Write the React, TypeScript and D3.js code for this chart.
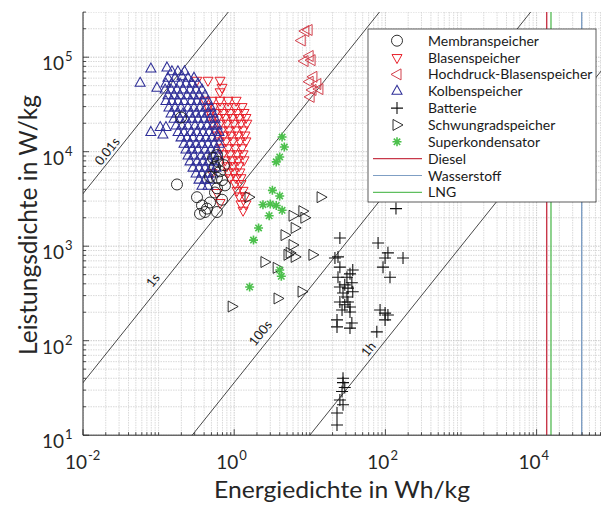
import React from 'react'
import * as d3 from 'd3'

// Ragone-Diagramm: Energiedichte (Wh/kg) vs. Leistungsdichte (W/kg)

const WIDTH = 601
const HEIGHT = 505

// [Energiedichte Wh/kg, Leistungsdichte W/kg]
const membranData: [number, number][] = [
  [0.175, 4500], [0.198, 23000], [0.322, 3300], [0.375, 2700], [0.411, 2300], [0.353, 2200],
  [0.479, 2900], [0.557, 3700], [0.592, 4100], [0.611, 7800], [0.557, 6900], [0.649, 6200],
  [0.525, 8600], [0.592, 9200], [0.69, 5000], [0.479, 5400], [0.592, 5300], [0.755, 4400],
  [0.592, 2300], [0.437, 2500], [0.69, 3100], [0.733, 7200],
]

const blasenData: [number, number][] = [
  [0.32, 57000], [0.45, 57000], [0.65, 57000], [0.69, 48000], [0.65, 43000],
  [0.41, 35000], [0.51, 35000], [0.65, 35000], [0.83, 35000], [1.06, 35000],
  [0.45, 30000], [0.54, 30000], [0.67, 30000], [0.83, 30000], [1.03, 30000], [1.27, 30000],
  [0.48, 26000], [0.57, 26000], [0.71, 26000], [0.88, 26000], [1.09, 26000], [1.35, 26000],
  [0.51, 23000], [0.61, 23000], [0.76, 23000], [0.94, 23000], [1.16, 23000], [1.43, 23000],
  [0.52, 20000], [0.65, 20000], [0.8, 20000], [0.99, 20000], [1.23, 20000], [1.47, 20000],
  [0.56, 17000], [0.69, 17000], [0.85, 17000], [1.06, 17000], [1.31, 17000],
  [0.59, 15000], [0.73, 15000], [0.9, 15000], [1.12, 15000], [1.39, 15000],
  [0.63, 13000], [0.78, 13000], [0.96, 13000], [1.19, 13000], [1.43, 13000],
  [0.67, 11000], [0.83, 11000], [1.03, 11000], [1.27, 11000],
  [0.71, 9500], [0.88, 9500], [1.09, 9500], [1.31, 9500],
  [0.76, 8200], [0.94, 8200], [1.12, 8200], [1.35, 8200],
  [0.8, 7100], [0.96, 7100], [1.16, 7100],
  [0.83, 6100], [0.99, 6100], [1.19, 6100],
  [0.88, 5300], [1.06, 5300], [1.23, 5300],
  [1.03, 4600], [1.23, 4600], [1.09, 3900], [1.31, 3900],
  [1.16, 3400], [1.39, 3400], [1.23, 2800], [1.43, 2800], [1.31, 2400],
  [0.51, 6000], [0.59, 3700], [0.65, 2900],
]

const hochdruckData: [number, number][] = [
  [8.6, 189000], [9.5, 194000], [7.7, 150000], [9.8, 103000], [8.4, 91000], [10.4, 93000],
  [11, 62000], [9.8, 55000], [12.4, 52000], [13.2, 46000], [10.7, 45000], [10.1, 38000],
]

const kolbenData: [number, number][] = [
  [0.079, 75000], [0.129, 77000], [0.057, 53000], [0.095, 47000], [0.204, 62000],
  [0.079, 16000], [0.114, 15000], [0.125, 18000], [0.105, 18000],
  [0.15, 70000], [0.18, 70000], [0.22, 70000],
  [0.133, 60000], [0.165, 60000], [0.245, 60000], [0.294, 60000],
  [0.125, 52000], [0.15, 52000], [0.192, 52000], [0.23, 52000], [0.277, 52000], [0.332, 52000],
  [0.122, 45000], [0.146, 45000], [0.175, 45000], [0.21, 45000], [0.26, 45000], [0.313, 45000], [0.375, 45000],
  [0.133, 39000], [0.16, 39000], [0.192, 39000], [0.238, 39000], [0.285, 39000], [0.342, 39000], [0.411, 39000],
  [0.125, 34000], [0.15, 34000], [0.181, 34000], [0.217, 34000], [0.269, 34000], [0.322, 34000], [0.386, 34000], [0.45, 34000],
  [0.137, 29000], [0.165, 29000], [0.198, 29000], [0.245, 29000], [0.294, 29000], [0.353, 29000], [0.424, 29000], [0.493, 29000],
  [0.146, 25000], [0.175, 25000], [0.21, 25000], [0.26, 25000], [0.313, 25000], [0.375, 25000], [0.45, 25000], [0.525, 25000],
  [0.16, 22000], [0.192, 22000], [0.23, 22000], [0.277, 22000], [0.332, 22000], [0.399, 22000], [0.479, 22000], [0.557, 22000],
  [0.17, 18700], [0.204, 18700], [0.245, 18700], [0.303, 18700], [0.364, 18700], [0.437, 18700], [0.525, 18700], [0.592, 18700],
  [0.181, 16000], [0.217, 16000], [0.269, 16000], [0.322, 16000], [0.386, 16000], [0.465, 16000], [0.557, 16000], [0.63, 16000],
  [0.198, 14000], [0.238, 14000], [0.285, 14000], [0.353, 14000], [0.424, 14000], [0.508, 14000], [0.611, 14000],
  [0.217, 12000], [0.26, 12000], [0.313, 12000], [0.375, 12000], [0.45, 12000], [0.541, 12000], [0.63, 12000],
  [0.23, 10400], [0.277, 10400], [0.332, 10400], [0.411, 10400], [0.493, 10400], [0.592, 10400],
  [0.245, 9000], [0.294, 9000], [0.364, 9000], [0.437, 9000], [0.525, 9000], [0.611, 9000],
  [0.26, 7800], [0.322, 7800], [0.386, 7800], [0.465, 7800], [0.557, 7800],
  [0.285, 6700], [0.342, 6700], [0.411, 6700], [0.493, 6700], [0.574, 6700],
  [0.313, 5800], [0.375, 5800], [0.45, 5800], [0.525, 5800],
  [0.342, 5000], [0.411, 5000], [0.479, 5000],
  [0.375, 4300], [0.45, 4300],
]

const batterieData: [number, number][] = [
  [138, 2500], [25, 1220], [80, 1080], [108, 850], [99, 750], [171, 750], [93, 600], [115, 470],
  [21.5, 750], [23.6, 770], [25, 600], [37, 560], [34, 510], [31, 470], [23.6, 470], [36, 410],
  [29, 390], [25, 370], [32, 360], [37, 330], [27.5, 320], [31, 290], [25, 257], [32, 257],
  [29, 240], [34, 227], [26.7, 211], [34, 201], [22.9, 166], [22.9, 140], [36, 154], [34, 136],
  [85, 211], [99, 196], [108, 187], [99, 166], [77, 124],
  [27.5, 40], [27.5, 36], [29, 32], [26.7, 29], [25, 23.6], [27.5, 21], [22.9, 17.2], [22.9, 12.8],
]

const schwungradData: [number, number][] = [
  [1.57, 3300], [14.1, 3300], [6.0, 2100], [8.1, 2350], [8.6, 2000], [6.4, 1560], [4.7, 1310],
  [6.0, 1030], [5.15, 810], [6.4, 770], [5.5, 850], [11.0, 810], [2.55, 680], [3.7, 590],
  [3.8, 280], [7.9, 330], [0.94, 230],
]

const superkondensatorData: [number, number][] = [
  [4.3, 14300], [4.6, 11200], [4.0, 8800], [3.6, 7800], [3.2, 3900], [4.0, 3400], [2.4, 2750],
  [3.0, 2800], [3.6, 2700], [4.3, 2400], [2.9, 2100], [2.1, 1560], [1.8, 1160], [4.0, 560],
  [4.2, 480], [1.6, 370],
]

// Kraftstoffe (vertikale Linien)
const fuelNames = ['Diesel', 'Wasserstoff', 'LNG']
const fuelEnergy = [13600, 39500, 15500]
const fuelColors = ['#c8384a', '#7f9fc4', '#5fbf5f']

// Linien konstanter Entladezeit (s)
const timeConstants = [0.01, 1, 100, 3600]
const timeLabels = ['0.01s', '1s', '100s', '1h']
const timeLabelAt = [0.025, 0.105, 2.85, 72]
const timeLabelOffset = [8, 10, 11, 8.5]

const xTicks = [1e-2, 1e0, 1e2, 1e4]
const yTicks = [1e1, 1e2, 1e3, 1e4, 1e5]

const FONT = 'Lato, "Open Sans", sans-serif'

const x = d3.scaleLog().domain([1e-2, 1e5]).range([83, 612.2])
const y = d3.scaleLog().domain([10, 3e5]).range([435.2, 12.1])

const shapes: Record<string, string> = {
  up: 'M0,-6L5,3L-5,3Z',
  down: 'M0,6L5,-3L-5,-3Z',
  left: 'M-6,0L4,-5.5L4,5.5Z',
  right: 'M6,0L-4,-5.5L-4,5.5Z',
  plus: 'M-6,0H6M0,-6V6',
  star: 'M-4.5,0H4.5M0,-4.5V4.5M-3.2,-3.2L3.2,3.2M-3.2,3.2L3.2,-3.2',
}

type Series = { name: string; data: [number, number][]; shape: string; color: string; width: number }

const series: Series[] = [
  { name: 'Membranspeicher', data: membranData, shape: 'circle', color: '#1a1a1a', width: 0.9 },
  { name: 'Blasenspeicher', data: blasenData, shape: 'down', color: '#e8202a', width: 1 },
  { name: 'Hochdruck-Blasenspeicher', data: hochdruckData, shape: 'left', color: '#d2404c', width: 1 },
  { name: 'Kolbenspeicher', data: kolbenData, shape: 'up', color: '#2f2f98', width: 1.05 },
  { name: 'Batterie', data: batterieData, shape: 'plus', color: '#111111', width: 1.1 },
  { name: 'Schwungradspeicher', data: schwungradData, shape: 'right', color: '#1a1a1a', width: 0.9 },
  { name: 'Superkondensator', data: superkondensatorData, shape: 'star', color: '#4cc04c', width: 1.6 },
]
// Zeichenreihenfolge
const drawOrder = [1, 3, 0, 2, 4, 5, 6]

function Marker({ shape, color, width, cx, cy }: { shape: string; color: string; width: number; cx: number; cy: number }) {
  if (shape === 'circle') {
    return <circle cx={cx} cy={cy} r={5.5} fill="none" stroke={color} strokeWidth={width} />
  }
  return (
    <path d={shapes[shape]} transform={`translate(${cx},${cy})`} fill="none" stroke={color} strokeWidth={width} />
  )
}

// "10" und Exponent als getrennte Texte
function Pow({ px, py, exp }: { px: number; py: number; exp: number }) {
  return (
    <g fill="#262626" fontFamily={FONT}>
      <text x={px} y={py} textAnchor="end" fontSize={19}>
        10
      </text>
      <text x={px + 1} y={py - 9} textAnchor="start" fontSize={13}>
        {exp}
      </text>
    </g>
  )
}

export default function App(): JSX.Element {
  const [x0, x1] = x.range()
  const [y0, y1] = y.range()

  // Gitter: Dekaden und Zwischenwerte
  const xGrid: { v: number; major: boolean }[] = []
  for (let d = -2; d <= 4; d++) {
    for (let k = 1; k <= 9; k++) xGrid.push({ v: k * Math.pow(10, d), major: k === 1 && d % 2 === 0 })
  }
  const yGrid: { v: number; major: boolean }[] = []
  for (let d = 1; d <= 5; d++) {
    for (let k = 1; k <= 9; k++) {
      const v = k * Math.pow(10, d)
      if (v <= 3e5) yGrid.push({ v, major: k === 1 })
    }
  }

  const angle = (-Math.atan(94.5 / 75.6) * 180) / Math.PI
  const nx = -Math.sin((-angle * Math.PI) / 180)
  const ny = -Math.cos((-angle * Math.PI) / 180)

  const legendX = 368
  const legendY = 29
  const rowH = 16.85
  const legendRows = [
    ...series.map((s) => ({ kind: 'marker' as const, s, name: s.name })),
    ...fuelNames.map((n, i) => ({ kind: 'line' as const, color: fuelColors[i], name: n })),
  ]

  return (
    <svg
      width={WIDTH}
      height={HEIGHT}
      style={{ position: 'absolute', left: 0, top: 0, background: '#fff' }}
      xmlns="http://www.w3.org/2000/svg"
    >
      <defs>
        <clipPath id="plot">
          <rect x={x0} y={y1} width={x1 - x0} height={y0 - y1} />
        </clipPath>
      </defs>
      <rect width={WIDTH} height={HEIGHT} fill="#fff" />

      {/* grid */}
      <g clipPath="url(#plot)">
        {xGrid.map((g, i) => (
          <line
            key={'gx' + i}
            x1={x(g.v)}
            x2={x(g.v)}
            y1={y1}
            y2={y0}
            stroke={g.major ? '#bdbdbd' : '#cfcfcf'}
            strokeWidth={0.8}
            strokeDasharray="1.5 1"
          />
        ))}
        {yGrid.map((g, i) => (
          <line
            key={'gy' + i}
            x1={x0}
            x2={x1}
            y1={y(g.v)}
            y2={y(g.v)}
            stroke={g.major ? '#bdbdbd' : '#cfcfcf'}
            strokeWidth={0.8}
            strokeDasharray="1.5 1"
          />
        ))}
      </g>

      {/* Linien konstanter Zeit */}
      <g clipPath="url(#plot)">
        {timeConstants.map((t, i) => {
          const ln = d3
            .line<number>()
            .x((e) => x(e))
            .y((e) => y((3600 * e) / t))
          return <path key={'t' + i} d={ln([1e-4, 1e6]) || ''} stroke="#1a1a1a" strokeWidth={0.8} fill="none" />
        })}
        {fuelEnergy.map((e, i) => (
          <line key={'f' + i} x1={x(e)} x2={x(e)} y1={y1} y2={y0} stroke={fuelColors[i]} strokeWidth={1.4} />
        ))}
      </g>
      {timeLabels.map((lab, i) => {
        const e = timeLabelAt[i]
        const px = x(e) + nx * timeLabelOffset[i]
        const py = y((3600 * e) / timeConstants[i]) + ny * timeLabelOffset[i]
        return (
          <text
            key={'tl' + i}
            x={px}
            y={py}
            transform={`rotate(${angle},${px},${py})`}
            textAnchor="middle"
            dominantBaseline="central"
            fontSize={13}
            fontFamily={FONT}
            fill="#1a1a1a"
          >
            {lab}
          </text>
        )
      })}

      {/* Datenpunkte */}
      <g clipPath="url(#plot)">
        {drawOrder.map((si) => {
          const s = series[si]
          return (
            <g key={s.name}>
              {s.data.map((d, j) => (
                <Marker key={j} shape={s.shape} color={s.color} width={s.width} cx={x(d[0])} cy={y(d[1])} />
              ))}
            </g>
          )
        })}
      </g>

      {/* Achsen */}
      <line x1={x0} x2={x0} y1={y1} y2={y0} stroke="#262626" strokeWidth={1} />
      <line x1={x0} x2={x1} y1={y0} y2={y0} stroke="#262626" strokeWidth={1} />
      {xGrid.map((g, i) => (
        <line
          key={'tx' + i}
          x1={x(g.v)}
          x2={x(g.v)}
          y1={y0}
          y2={y0 - (g.major ? 6 : 3)}
          stroke="#262626"
          strokeWidth={0.8}
        />
      ))}
      {yGrid.map((g, i) => (
        <line
          key={'ty' + i}
          x1={x0}
          x2={x0 + (g.major ? 6 : 3)}
          y1={y(g.v)}
          y2={y(g.v)}
          stroke="#262626"
          strokeWidth={0.8}
        />
      ))}
      {xTicks.map((v) => (
        <Pow key={'xl' + v} px={x(v) + 4} py={469} exp={Math.round(Math.log10(v))} />
      ))}
      {yTicks.map((v) => (
        <Pow key={'yl' + v} px={64} py={y(v) + 13} exp={Math.round(Math.log10(v))} />
      ))}

      <text
        x={342}
        y={498}
        textAnchor="middle"
        fontSize={24}
        fontFamily={FONT}
        fill="#262626"
        textLength={256}
        lengthAdjust="spacingAndGlyphs"
      >
        Energiedichte in Wh/kg
      </text>
      <text
        x={37}
        y={225}
        transform="rotate(-90,37,225)"
        textAnchor="middle"
        fontSize={25}
        fontFamily={FONT}
        fill="#262626"
        textLength={260}
        lengthAdjust="spacingAndGlyphs"
      >
        Leistungsdichte in W/kg
      </text>

      {/* Legende */}
      <rect x={legendX} y={legendY} width={228} height={173} fill="#fff" stroke="#333" strokeWidth={0.8} />
      {legendRows.map((r, i) => {
        const cy = legendY + 11.7 + i * rowH
        return (
          <g key={'lg' + i}>
            {r.kind === 'marker' ? (
              <Marker shape={r.s.shape} color={r.s.color} width={r.s.width} cx={397} cy={cy} />
            ) : (
              <line x1={373} x2={422} y1={cy} y2={cy} stroke={r.color} strokeWidth={1.2} />
            )}
            <text x={428} y={cy + 5} fontSize={14} fontFamily={FONT} fill="#1a1a1a">
              {r.name}
            </text>
          </g>
        )
      })}
    </svg>
  )
}
